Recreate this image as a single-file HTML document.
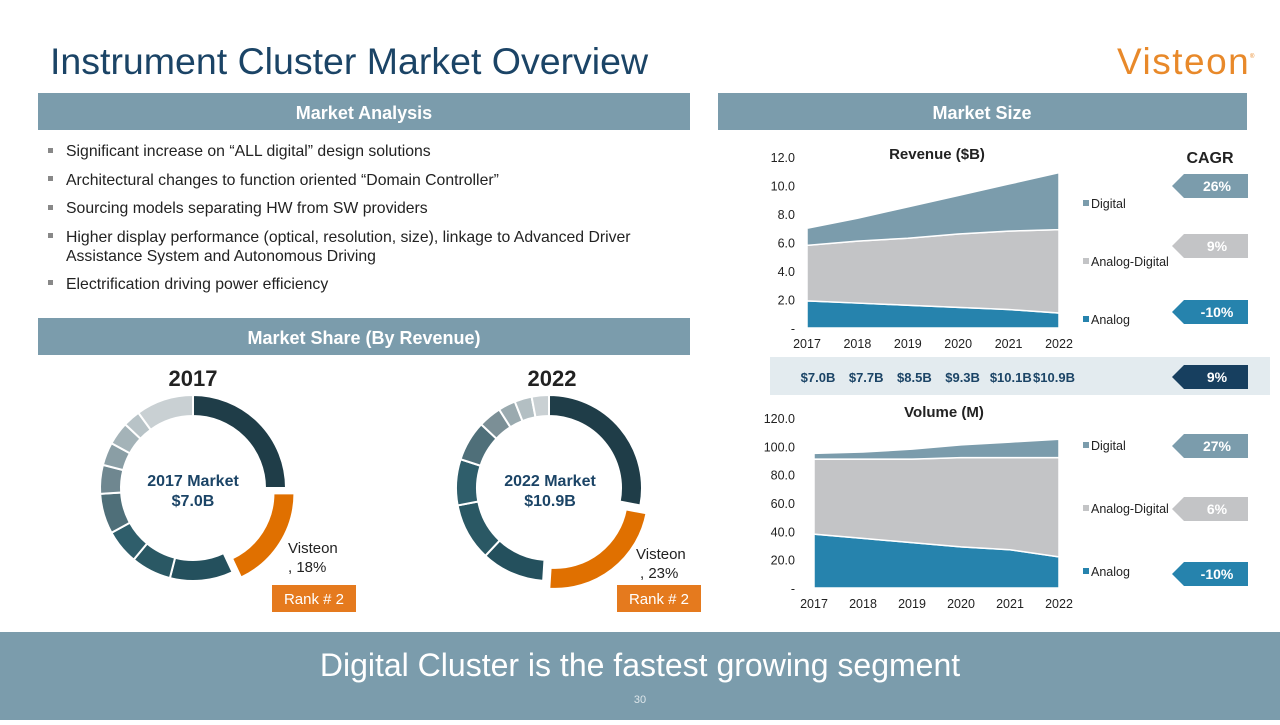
<!DOCTYPE html>
<html><head><meta charset="utf-8">
<style>
body{margin:0;width:1280px;height:720px;overflow:hidden;background:#fff;font-family:"Liberation Sans",Arial,sans-serif;}
svg text{font-family:"Liberation Sans",Arial,sans-serif;}
</style></head>
<body>
<svg id="s" width="1280" height="720" viewBox="0 0 1280 720" xmlns="http://www.w3.org/2000/svg">
<text x="50" y="74" font-size="37.5" fill="#1b4466">Instrument Cluster Market Overview</text>
<text x="1117" y="74" font-size="37" letter-spacing="1.5" fill="#e8892a">Visteon</text>
<text x="1250" y="58" font-size="6" fill="#e8892a">®</text>

<rect x="38" y="93" width="652" height="37" fill="#7b9cac"/>
<text x="364" y="119" font-size="18" font-weight="bold" fill="#fff" text-anchor="middle">Market Analysis</text>
<rect x="718" y="93" width="529" height="37" fill="#7b9cac"/>
<text x="982" y="119" font-size="18" font-weight="bold" fill="#fff" text-anchor="middle">Market Size</text>

<g font-size="15.8" fill="#222">
<rect x="48" y="148" width="5" height="5" fill="#888"/><text x="66" y="156">Significant increase on “ALL digital” design solutions</text>
<rect x="48" y="176" width="5" height="5" fill="#888"/><text x="66" y="185">Architectural changes to function oriented “Domain Controller”</text>
<rect x="48" y="205" width="5" height="5" fill="#888"/><text x="66" y="213">Sourcing models separating HW from SW providers</text>
<rect x="48" y="233" width="5" height="5" fill="#888"/><text x="66" y="242">Higher display performance (optical, resolution, size), linkage to Advanced Driver</text>
<text x="66" y="261">Assistance System and Autonomous Driving</text>
<rect x="48" y="280" width="5" height="5" fill="#888"/><text x="66" y="289">Electrification driving power efficiency</text>
</g>

<rect x="38" y="318" width="652" height="37" fill="#7b9cac"/>
<text x="364" y="344" font-size="18" font-weight="bold" fill="#fff" text-anchor="middle">Market Share (By Revenue)</text>

<g id="donuts"></g>
<text x="193" y="386" font-size="22" font-weight="bold" fill="#222" text-anchor="middle">2017</text>
<text x="552" y="386" font-size="22" font-weight="bold" fill="#222" text-anchor="middle">2022</text>
<text x="193" y="486" font-size="16" font-weight="bold" fill="#1b4466" text-anchor="middle">2017 Market</text>
<text x="193" y="506" font-size="16" font-weight="bold" fill="#1b4466" text-anchor="middle">$7.0B</text>
<text x="550" y="486" font-size="16" font-weight="bold" fill="#1b4466" text-anchor="middle">2022 Market</text>
<text x="550" y="506" font-size="16" font-weight="bold" fill="#1b4466" text-anchor="middle">$10.9B</text>
<text x="288" y="553" font-size="15" fill="#222">Visteon</text>
<text x="288" y="572" font-size="15" fill="#222">, 18%</text>
<text x="636" y="559" font-size="15" fill="#222">Visteon</text>
<text x="640" y="578" font-size="15" fill="#222">, 23%</text>
<rect x="272" y="585" width="84" height="27" fill="#e57a1e"/>
<text x="314" y="604" font-size="15" fill="#fff" text-anchor="middle">Rank # 2</text>
<rect x="617" y="585" width="84" height="27" fill="#e57a1e"/>
<text x="659" y="604" font-size="15" fill="#fff" text-anchor="middle">Rank # 2</text>

<g id="rev"></g>
<g id="vol"></g>
<text x="1210" y="163" font-size="16" font-weight="bold" fill="#222" text-anchor="middle">CAGR</text>

<rect x="770" y="357" width="500" height="38" fill="#e3ebef"/>
<g id="totals"></g>
<g id="cagr"></g>

<rect x="0" y="632" width="1280" height="88" fill="#7b9cac"/>
<text x="640" y="676" font-size="32" fill="#fff" text-anchor="middle">Digital Cluster is the fastest growing segment</text>
<text x="640" y="703" font-size="11" fill="#dde6ea" text-anchor="middle">30</text>
</svg>
<script>
const NS="http://www.w3.org/2000/svg";
const years=["2017","2018","2019","2020","2021","2022"];
const revAnalog=[1.9,1.75,1.6,1.45,1.3,1.05];
const revAnalogDigital=[3.9,4.35,4.7,5.15,5.5,5.85];
const revDigital=[1.2,1.6,2.2,2.7,3.3,4.0];
const revTicks=["-","2.0","4.0","6.0","8.0","10.0","12.0"];
const volAnalog=[38,35,32,29,27,22];
const volAnalogDigital=[53,56,59,63,65,70];
const volDigital=[4,5,7,9,11,13];
const volTicks=["-","20.0","40.0","60.0","80.0","100.0","120.0"];
const totalsLabels=["$7.0B","$7.7B","$8.5B","$9.3B","$10.1B","$10.9B"];
const share2017=[25,18,11,7,6,7,5,4,4,3,10];
const share2022=[28,23,11,10,8,7,4,3,3,3];
const revCagr=["26%","9%","-10%"];
const volCagr=["27%","6%","-10%"];
const totalCagr="9%";

function el(tag,attrs,parent){const e=document.createElementNS(NS,tag);for(const k in attrs)e.setAttribute(k,attrs[k]);parent.appendChild(e);return e;}
const colors=["#7b9cac","#c3c4c6","#2683ad"];

function area(g,series,ticks,max,x0,x1,y0,y1,title,prefix,labelX){
  const step=max/(ticks.length-1);
  const xs=i=>x0+(x1-x0)*i/(years.length-1);
  const ys=v=>y0-(y0-y1)*v/max;
  ticks.forEach((t,i)=>{const tx=el("text",{x:labelX,y:ys(i*step)+5,"font-size":12.5,fill:"#222","text-anchor":"end"},g);tx.textContent=t;
    
    });
  years.forEach((y,i)=>{const tx=el("text",{x:xs(i),y:y0+20,"font-size":12.5,fill:"#222","text-anchor":"middle"},g);tx.textContent=y;
    
    });
  let base=years.map(()=>0);
  const names=["analog","analog-digital","digital"];
  [series[0],series[1],series[2]].forEach((s,k)=>{
    const top=base.map((b,i)=>b+s[i]);
    let d="M"+years.map((_,i)=>xs(i)+","+ys(top[i])).join("L");
    for(let i=years.length-1;i>=0;i--)d+="L"+xs(i)+","+ys(base[i]);
    const p=el("path",{d:d+"Z",fill:[colors[2],colors[1],colors[0]][k],stroke:"#fff","stroke-width":1.5},g);
    
    
    base=top;
  });
  const tt=el("text",{x:prefix==="revenue"?937:944,y:prefix==="revenue"?159:417,"font-size":15,"font-weight":"bold",fill:"#222","text-anchor":"middle"},g);tt.textContent=title;
  
  
}
function legend(g,ys,prefix){
  const labels=["Digital","Analog-Digital","Analog"];
  labels.forEach((l,i)=>{
    const r=el("rect",{x:1083,y:ys[i]-8,width:6,height:6,fill:colors[i]},g);
    
    
    const t=el("text",{x:1091,y:ys[i],"font-size":12.5,fill:"#222"},g);t.textContent=l;
    
    
  });
}
function tag(g,y,label,fill){
  const p=el("polygon",{points:`1172,${y} 1184,${y-12} 1248,${y-12} 1248,${y+12} 1184,${y+12}`,fill:fill},g);
  
  
  const t=el("text",{x:1217,y:y+5,"font-size":14,"font-weight":"bold",fill:"#fff","text-anchor":"middle"},g);t.textContent=label;
  
  
}
const rev=document.getElementById("rev");
area(rev,[revAnalog,revAnalogDigital,revDigital],revTicks,12,807,1059,328,157,"Revenue ($B)","revenue",795);
legend(rev,[208,266,324],"revenue");
const vol=document.getElementById("vol");
area(vol,[volAnalog,volAnalogDigital,volDigital],volTicks,120,814,1059,588,418,"Volume (M)","volume",795);
legend(vol,[450,513,576],"volume");
const cg=document.getElementById("cagr");
[186,246,312].forEach((y,i)=>tag(cg,y,revCagr[i],[colors[0],colors[1],colors[2]][i]));
[446,509,574].forEach((y,i)=>tag(cg,y,volCagr[i],[colors[0],colors[1],colors[2]][i]));
tag(cg,377,totalCagr,"#173f5f");
const tg=document.getElementById("totals");
totalsLabels.forEach((l,i)=>{const t=el("text",{x:818+(1059-818)*i/5+ (i===5?-5:0),y:382,"font-size":13,"font-weight":"bold",fill:"#1b4466","text-anchor":"middle"},tg);t.textContent=l;
  
  });

function donut(cx,cy,R,r,shares,cols,name){
  const g=document.getElementById("donuts");
  const tot=shares.reduce((a,b)=>a+b,0);let a=0;
  shares.forEach((s,i)=>{
    const a0=a/tot*2*Math.PI,a1=(a+s)/tot*2*Math.PI;a+=s;
    let ox=0,oy=0;
    if(i===1){const m=(a0+a1)/2;ox=10*Math.sin(m);oy=-10*Math.cos(m);}
    const P=(rad,ang)=>[cx+ox+rad*Math.sin(ang),cy+oy-rad*Math.cos(ang)];
    const lg=(a1-a0)>Math.PI?1:0;
    const [x1,y1]=P(R,a0),[x2,y2]=P(R,a1),[x3,y3]=P(r,a1),[x4,y4]=P(r,a0);
    const p=el("path",{d:`M${x1},${y1}A${R},${R} 0 ${lg} 1 ${x2},${y2}L${x3},${y3}A${r},${r} 0 ${lg} 0 ${x4},${y4}Z`,fill:cols[i],stroke:"#fff","stroke-width":2},g);
    
    
  });
}
donut(193,488,93,72,share2017,["#1f3d48","#e07000","#24505d","#2a5864","#2f5e6b","#4f6f79","#6f8790","#8a9ea5","#a4b3b8","#b8c3c7","#c9d0d3"],"donut-2017");
donut(549,488,93,72,share2022,["#1f3d48","#e07000","#24505d","#2a5864","#2f5e6b","#4f6f79","#7b8f96","#9aaaaf","#b3bfc3","#c9d0d3"],"donut-2022");
</script>
</body></html>
